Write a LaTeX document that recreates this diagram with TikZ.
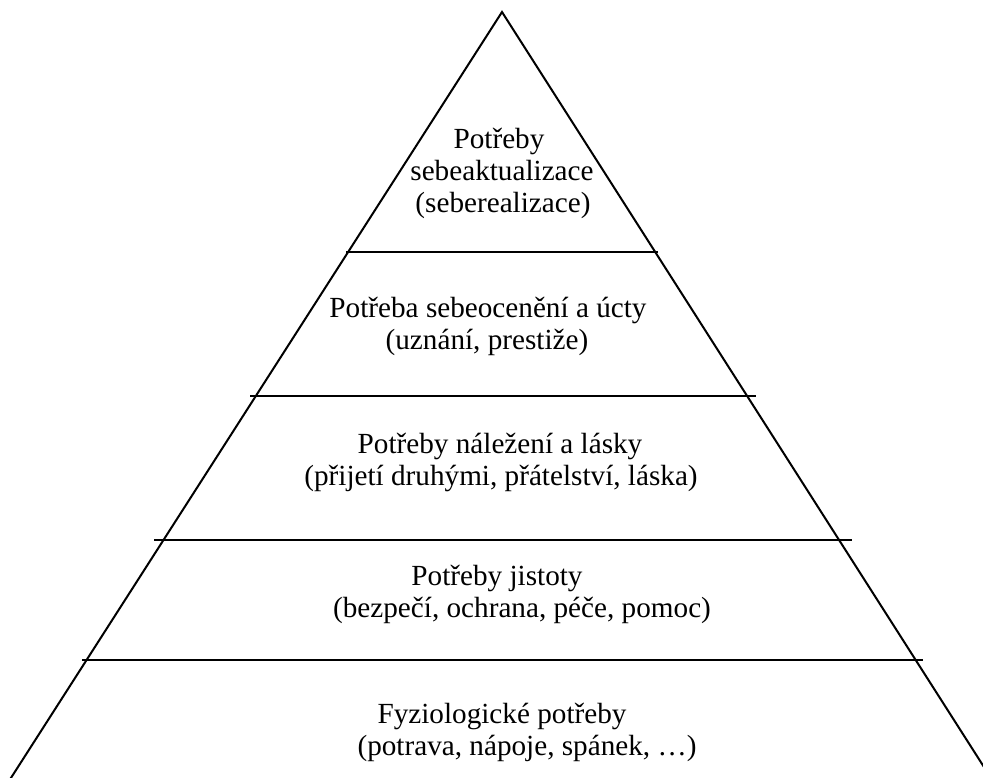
\documentclass[tikz,border=0pt]{standalone}
\usepackage{fontspec}
\setmainfont{Liberation Serif}
\begin{document}
\begin{tikzpicture}[x=1pt,y=-1pt,
  edge/.style={line width=2pt,line cap=butt},
  lvl/.style={line width=2pt},
  lbl/.style={anchor=base,inner sep=0pt,font=\fontsize{29.2}{32}\selectfont}]
\useasboundingbox (0,0) rectangle (983,777);
\fill[white] (0,0) rectangle (983,777);
\clip (0,0) rectangle (983,777);
\coordinate (apex) at (502,12);
\coordinate (bl) at (4.5,788);
\coordinate (br) at (991,778);
\draw[edge] (bl) -- (apex) -- (br);
% level lines
\coordinate (l1a) at (346,252); \coordinate (l1b) at (658,252);
\coordinate (l2a) at (250,396); \coordinate (l2b) at (756,396);
\coordinate (l3a) at (154,540); \coordinate (l3b) at (852,540);
\coordinate (l4a) at (82,660);  \coordinate (l4b) at (923,660);
\draw[lvl] (l1a) -- (l1b);
\draw[lvl] (l2a) -- (l2b);
\draw[lvl] (l3a) -- (l3b);
\draw[lvl] (l4a) -- (l4b);
% texts
\node[lbl] (t1) at (499,148) {Potřeby};
\node[lbl] (t2) at (502,180) {sebeaktualizace};
\node[lbl] (t3) at (503,212) {(seberealizace)};
\node[lbl] (t4) at (488,317) {Potřeba sebeocenění a úcty};
\node[lbl] (t5) at (487,349) {(uznání, prestiže)};
\node[lbl] (t6) at (500,453) {Potřeby náležení a lásky};
\node[lbl] (t7) at (501,485) {(přijetí druhými, přátelství, láska)};
\node[lbl] (t8) at (497,585) {Potřeby jistoty};
\node[lbl] (t9) at (522,617) {(bezpečí, ochrana, péče, pomoc)};
\node[lbl] (t10) at (502,723) {Fyziologické potřeby};
\node[lbl] (t11) at (527,755) {(potrava, nápoje, spánek, …)};
\end{tikzpicture}
\end{document}
